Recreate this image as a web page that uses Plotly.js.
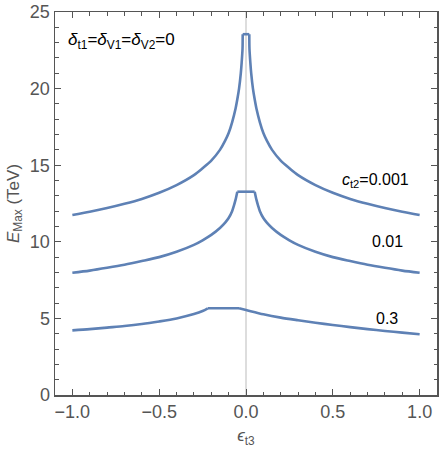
<!DOCTYPE html>
<html>
<head>
<meta charset="utf-8">
<script src="https://cdn.plot.ly/plotly-3.0.1.min.js"></script>
<style>html,body{margin:0;padding:0;background:#fff;}#chart{width:441px;height:452px;}</style>
</head>
<body>
<div id="chart"></div>
<script>
// c_t2 = 0.001
const x1 = [-1,-0.9,-0.8,-0.7,-0.6,-0.5,-0.4,-0.3,-0.25,-0.2,-0.15,-0.12,-0.1,-0.08,-0.06,-0.05,-0.04,-0.03,-0.025,-0.02,-0.019,0.019,0.02,0.025,0.03,0.04,0.05,0.06,0.08,0.1,0.12,0.15,0.2,0.25,0.3,0.4,0.5,0.6,0.7,0.8,0.9,1];
const y1 = [11.75,11.96,12.2,12.48,12.8,13.2,13.7,14.35,14.8,15.3,16.0,16.6,17.1,17.8,18.7,19.3,20.0,21.0,21.7,22.6,23.55,23.55,22.6,21.7,21.0,20.0,19.3,18.7,17.8,17.1,16.6,16.0,15.3,14.8,14.35,13.7,13.2,12.8,12.48,12.2,11.96,11.75];
// c_t2 = 0.01
const x2 = [-1,-0.9,-0.8,-0.7,-0.6,-0.5,-0.4,-0.3,-0.25,-0.2,-0.15,-0.12,-0.1,-0.08,-0.07,-0.06,-0.05,0.05,0.06,0.07,0.08,0.1,0.12,0.15,0.2,0.25,0.3,0.4,0.5,0.6,0.7,0.8,0.9,1];
const y2 = [7.98,8.12,8.3,8.5,8.74,9.0,9.35,9.8,10.1,10.45,10.9,11.25,11.55,12.0,12.35,12.75,13.27,13.27,12.75,12.35,12.0,11.55,11.25,10.9,10.45,10.1,9.8,9.35,9.0,8.74,8.5,8.3,8.12,7.98];
// c_t2 = 0.3
const x3 = [-1,-0.9,-0.8,-0.7,-0.6,-0.5,-0.4,-0.3,-0.25,-0.22,-0.04,0,0.1,0.2,0.3,0.4,0.5,0.6,0.7,0.8,0.9,1];
const y3 = [4.22,4.3,4.4,4.5,4.63,4.8,5.0,5.28,5.48,5.66,5.66,5.55,5.27,5.05,4.88,4.72,4.57,4.43,4.3,4.18,4.07,3.96];

const labels = ["<i>c</i><sub>t2</sub>=0.001", "0.01", "0.3"];
const labelX = [0.745, 0.813, 0.813];
const labelY = [14.0, 10.05, 5.0];
const xTicks = [-1, -0.5, 0, 0.5, 1];
const xTickText = ["\u22121.0", "\u22120.5", "0.0", "0.5", "1.0"];
const yTicks = [0, 5, 10, 15, 20, 25];

const lineColor = '#5E81B5';
const lineWidth = 2.6;

// split each curve into left wing, flat cap, right wing (cap = equal consecutive values)
function pieces(xs, ys) {
  let k = 0;
  for (let i = 0; i < ys.length - 1; i++) { if (ys[i] === ys[i + 1]) { k = i; break; } }
  return [
    {x: xs.slice(0, k + 1), y: ys.slice(0, k + 1), shape: 'spline'},
    {x: xs.slice(k, k + 2), y: ys.slice(k, k + 2), shape: 'linear'},
    {x: xs.slice(k + 1), y: ys.slice(k + 1), shape: 'spline'}
  ];
}
const traces = [];
[[x1, y1], [x2, y2], [x3, y3]].forEach(([xs, ys]) => {
  pieces(xs, ys).forEach(p => traces.push({
    x: p.x, y: p.y, mode: 'lines', hoverinfo: 'skip',
    line: {color: lineColor, width: lineWidth, shape: p.shape, smoothing: 0.8}
  }));
});

const FAM = 'Liberation Sans, Arial, sans-serif';
const axisFont = {family: FAM, size: 18, color: '#555'};
const annotations = labels.map((t, i) => ({
  x: labelX[i], y: labelY[i], xref: 'x', yref: 'y', text: t, showarrow: false,
  font: {family: FAM, size: 16, color: '#000'}
}));
annotations.push({
  x: -1.035, y: 23.1, xref: 'x', yref: 'y', xanchor: 'left', showarrow: false,
  text: "<i>δ</i><sub>t1</sub>=<i>δ</i><sub>V1</sub>=<i>δ</i><sub>V2</sub>=0",
  font: {family: FAM, size: 17, color: '#000'}
});

const layout = {
  width: 441, height: 452,
  margin: {l: 55, r: 4, t: 12, b: 57},
  paper_bgcolor: '#fff', plot_bgcolor: '#fff',
  showlegend: false,
  font: axisFont,
  xaxis: {
    range: [-1.1, 1.1], tickvals: xTicks, ticktext: xTickText,
    ticks: 'inside', ticklen: 6, tickwidth: 1, tickcolor: '#555',
    minor: {dtick: 0.1, ticks: 'inside', ticklen: 3.5, tickcolor: '#555', showgrid: false},
    showline: true, linecolor: '#555', linewidth: 1.5, mirror: 'ticks',
    showgrid: false, zeroline: true, zerolinecolor: '#dddddd', zerolinewidth: 1.5,
    tickfont: axisFont,
    title: {text: "<i>ϵ</i><sub>t3</sub>", font: {family: FAM, size: 17, color: '#555'}, standoff: 8}
  },
  yaxis: {
    range: [0, 25], tickvals: yTicks,
    ticks: 'inside', ticklen: 6, tickwidth: 1, tickcolor: '#555',
    minor: {dtick: 1, ticks: 'inside', ticklen: 3.5, tickcolor: '#555', showgrid: false},
    showline: true, linecolor: '#555', linewidth: 1.5, mirror: 'ticks',
    showgrid: false, zeroline: false,
    tickfont: axisFont,
    title: {text: "<i>E</i><sub>Max</sub> (TeV)", font: {family: FAM, size: 17, color: '#555'}, standoff: 6}
  },
  annotations: annotations
};

Plotly.newPlot('chart', traces, layout, {staticPlot: true, displayModeBar: false});
</script>
</body>
</html>
